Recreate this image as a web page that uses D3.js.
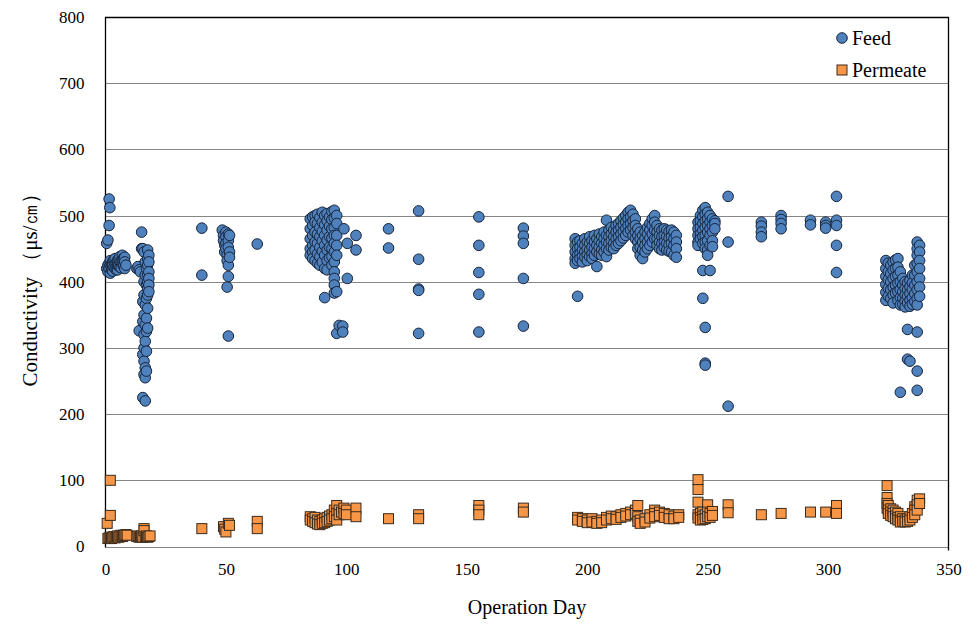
<!DOCTYPE html>
<html>
<head>
<meta charset="utf-8">
<script src="https://cdn.jsdelivr.net/npm/d3@7/dist/d3.min.js"></script>
<style>
  html, body { margin: 0; padding: 0; background: #fff; }
  svg { display: block; }
  text { font-family: "Liberation Serif", "Times New Roman", serif; fill: #000; }
</style>
</head>
<body>
<svg id="chart" width="977" height="638"></svg>
<script>
// ---------- data ----------
const xTicks = [0, 50, 100, 150, 200, 250, 300, 350];
const yTicks = [0, 100, 200, 300, 400, 500, 600, 700, 800];
const seriesNames = ["Feed", "Permeate"];

// Feed conductivity: days and the readings taken on each day
const feedDays = [
  0.5, 1, 1.5, 1.8, 2, 2.5, 3, 3.5, 4, 4.5, 5, 5.5, 6, 6.5, 7, 7.5, 8, 8.5,
  13, 13.5, 14, 14.5, 15, 15.5, 16, 16.5, 17, 17.5, 18,
  40, 48.5, 49, 49.5, 50, 50.5, 51, 51.5, 63,
  85, 86, 87, 88, 89, 90, 91, 92, 93, 94, 95, 96, 97, 98.5, 99, 100.4, 104,
  117.5, 130, 155, 173.5,
  195, 196, 197, 198, 199, 200, 201, 202, 203, 204, 205, 206, 207, 208, 209, 210,
  211, 212, 213, 214, 215, 216, 217, 218, 219, 220, 221, 222, 223, 224, 225, 226,
  227, 228, 229, 230, 231, 232, 233, 234, 235, 236, 237,
  246, 247, 248, 249, 250, 251, 252, 253, 258.5,
  272.3, 280.5, 292.7, 299, 303.5,
  324, 325, 326, 327, 328, 329, 330, 331, 332, 333, 334, 335, 336, 337, 338
];
const feedValues = [
  [458, 420], [463, 415, 425], [485, 525, 420, 428], [512], [425, 413, 432], [418, 427], [430, 416, 424],
  [422, 433], [435, 420, 427], [428, 418], [432, 418, 425], [425, 435], [438, 422, 430], [430, 421],
  [428, 440, 434], [435, 424], [420, 437, 430], [425],
  [420], [423], [418, 326], [415], [475, 450], [450, 370, 340, 290, 225],
  [445, 400, 380, 350, 320, 300, 280, 260], [430, 410, 365, 335, 310, 270, 255, 220],
  [420, 395, 375, 345, 325, 295, 265], [448, 435, 425, 410, 400, 390, 380, 360, 330],
  [440, 430, 415, 405, 395, 385],
  [481, 410], [478], [470, 462], [455, 445], [475, 468, 458, 450], [440, 432, 392],
  [472, 462, 452, 425, 408, 318], [470, 445, 437], [457],
  [495, 480, 465, 450, 440], [498, 485, 470, 455, 445, 435], [500, 490, 475, 460, 448, 432],
  [502, 488, 472, 458, 442, 428], [497, 482, 468, 452, 438, 425], [505, 490, 476, 462, 446, 430],
  [500, 486, 470, 455, 440, 420, 376], [503, 492, 478, 463, 448, 432, 418], [498, 484, 468, 452, 436],
  [506, 494, 480, 466, 450, 438, 425], [508, 496, 482, 470, 458, 445, 430, 415, 405, 395, 383],
  [500, 488, 470, 455, 440, 385, 322], [334], [333, 324], [480], [458, 405], [470, 448],
  [480, 451], [507, 434, 389, 387, 322], [498, 455, 414, 381, 324], [481, 469, 458, 405, 333],
  [465, 455, 445, 435, 428], [460, 450, 440, 432, 378], [462, 452, 442, 435], [458, 448, 438, 430],
  [465, 455, 445, 437], [460, 450, 440, 432], [468, 458, 448, 438], [462, 452, 442, 435],
  [470, 460, 450, 440], [465, 455, 445, 423], [472, 462, 452, 442], [468, 458, 448, 440],
  [475, 465, 455, 445], [493, 470, 460, 450, 438], [478, 468, 458, 448], [482, 472, 462, 452],
  [478, 468, 458, 450], [485, 475, 465, 455], [488, 478, 468, 458], [492, 482, 472, 462],
  [496, 486, 476, 466], [500, 490, 480, 470], [505, 495, 485, 475], [508, 498, 488, 478],
  [502, 492, 482, 470], [495, 485, 475, 465], [480, 470, 460, 450], [475, 465, 452, 440],
  [470, 460, 448, 435], [475, 465, 455, 445], [482, 472, 460, 450], [488, 478, 466, 455],
  [495, 485, 472, 460], [500, 490, 478, 465], [485, 475, 465, 455], [480, 470, 460, 450],
  [478, 468, 458, 448], [480, 470, 460, 452], [478, 468, 458, 448], [476, 466, 456, 446],
  [478, 468, 458, 445], [475, 465, 455, 440], [470, 460, 450, 437],
  [490, 480, 470, 460, 455], [500, 492, 482, 472, 465], [508, 498, 488, 478, 468, 458, 417, 375],
  [512, 502, 492, 482, 470, 460, 450, 331, 277, 274], [505, 495, 485, 475, 462, 448, 440],
  [500, 490, 480, 470, 455, 417], [495, 485, 475, 462, 453], [492, 488, 480], [529, 460, 212],
  [490, 484, 475, 468], [500, 494, 488, 480], [493, 486], [490, 485, 481], [529, 493, 485, 455, 414],
  [432, 420, 408, 396, 384, 372], [428, 415, 403, 390, 378], [425, 412, 400, 388, 375],
  [430, 418, 405, 392, 380, 368], [433, 420, 408, 395, 383], [435, 422, 410, 398, 385, 372],
  [415, 400, 388, 376, 365, 233], [405, 395, 385, 375, 366], [400, 390, 380, 370, 362],
  [398, 388, 378, 368, 328, 283], [402, 392, 382, 372, 363, 280], [410, 398, 388, 376, 366],
  [425, 410, 395, 382, 370], [460, 450, 440, 428, 415, 400, 388, 375, 365, 324, 265, 236],
  [455, 445, 432, 420, 405, 392, 378]
];

// Permeate conductivity
const permDays = [
  0.7, 1, 1.5, 2, 2.5, 3, 3.5, 4, 4.5, 5, 5.5, 6, 6.5, 7, 7.5, 8, 8.5, 9,
  13, 13.5, 14, 14.5, 15, 15.5, 16, 16.5, 17, 17.5, 18, 18.5,
  40, 49, 49.5, 50, 51, 51.5, 63,
  85, 86, 87, 88, 89, 90, 91, 92, 93, 94, 95, 96, 97, 98, 99, 100, 104,
  117.5, 130, 155, 173.5,
  196, 198, 200, 202, 204, 206, 208, 210, 212, 214, 216, 218, 220, 221, 222, 224, 226,
  228, 230, 232, 234, 236, 238,
  246, 247, 248, 249, 250, 251, 252, 258.5, 272.3, 280.5, 292.7, 299, 303.5,
  324.5, 325, 326, 327, 328, 329, 330, 331, 332, 333, 334, 335, 336, 337, 338
];
const permValues = [
  [35], [12], [13], [100, 47, 14], [12], [14], [15], [13], [15], [16], [14], [16], [17], [15], [17], [17], [18], [17],
  [15], [16], [14], [15], [16], [14], [27, 24], [15], [16], [14], [15], [16],
  [27], [30], [26], [22], [35], [32], [38, 27],
  [45, 40], [42, 38], [44, 36], [40, 34], [38, 33], [40, 35], [42, 36], [44, 38], [46, 40], [48, 42],
  [55, 45], [62, 50, 40], [55, 48], [52], [58, 50], [55, 48], [58, 45],
  [42], [48, 42], [62, 55, 48], [58, 52],
  [44, 40], [42, 38], [40, 36], [42, 37], [38, 35], [40, 36], [44, 40], [46, 42], [45, 41], [48, 44],
  [50, 46], [52, 48], [55, 50], [62, 45, 38], [40, 35], [42, 37], [48, 43], [55, 50, 45], [52, 47],
  [50, 44], [48, 42], [46, 42], [48, 44],
  [101, 86, 67, 48, 43], [50, 44, 40], [52, 46, 41], [48, 42], [63, 52, 45], [50, 44], [53, 47],
  [63, 51], [48], [50], [52], [52], [62, 50],
  [92, 74, 65, 58], [62, 55, 50], [57, 52, 47], [55, 50, 45], [52, 46, 42], [50, 44, 40], [45, 40, 37],
  [42, 38], [40, 37], [42, 38], [45, 40], [50, 44], [60, 55, 48], [70, 63, 55], [72, 65]
];

// ---------- layout ----------
const SERIF = "'Liberation Serif', 'Times New Roman', serif";
const svg = d3.select("#chart");
const plot = { left: 105.5, right: 948.5, top: 17, bottom: 546.5 };
const x = d3.scaleLinear().domain([0, 350]).range([plot.left, plot.right]);
const y = d3.scaleLinear().domain([0, 800]).range([plot.bottom, plot.top]);

function flatten(days, vals) {
  const out = [];
  days.forEach((d, i) => vals[i].forEach(v => out.push({ day: d, value: v })));
  return out;
}
const feed = flatten(feedDays, feedValues);
const perm = flatten(permDays, permValues);

// gridlines
svg.append("g")
  .selectAll("line")
  .data(yTicks.filter(t => t < 800))
  .join("line")
  .attr("x1", plot.left).attr("x2", plot.right)
  .attr("y1", d => Math.round(y(d)) + 0.5).attr("y2", d => Math.round(y(d)) + 0.5)
  .attr("stroke", "#868686").attr("stroke-width", 1);

// plot border (top, left, right)
svg.append("path")
  .attr("d", `M${plot.left},${plot.bottom + 1}V${plot.top + 0.5}H${plot.right}V${plot.bottom + 4}`)
  .attr("fill", "none").attr("stroke", "#000").attr("stroke-width", 1.3);

// axes
const yAxis = d3.axisLeft(y).tickValues(yTicks).tickSize(0).tickPadding(21).tickFormat(d3.format("d"));
const gy = svg.append("g").attr("transform", `translate(${plot.left},0)`).call(yAxis)
  .attr("font-family", SERIF).attr("font-size", 17);
gy.select(".domain").remove();
gy.selectAll("text").attr("fill", "#000");

const xAxis = d3.axisBottom(x).tickValues(xTicks).tickSize(0).tickPadding(16).tickFormat(d3.format("d"));
const gx = svg.append("g").attr("transform", `translate(0,${plot.bottom})`).call(xAxis)
  .attr("font-family", SERIF).attr("font-size", 17);
gx.select(".domain").remove();
gx.selectAll("text").attr("fill", "#000");

// feed points
svg.append("g")
  .selectAll("circle")
  .data(feed)
  .join("circle")
  .attr("cx", d => x(d.day))
  .attr("cy", d => y(d.value))
  .attr("r", 5.3)
  .attr("fill", "#4F81BD")
  .attr("stroke", "#16243a")
  .attr("stroke-width", 1);

// permeate points
const sq = 10;
svg.append("g")
  .selectAll("rect")
  .data(perm)
  .join("rect")
  .attr("x", d => x(d.day) - sq / 2)
  .attr("y", d => y(d.value) - sq / 2)
  .attr("width", sq).attr("height", sq)
  .attr("fill", "#F79646")
  .attr("stroke", "#3a2a1c")
  .attr("stroke-width", 1);

// axis titles
svg.append("text")
  .attr("x", (plot.left + plot.right) / 2).attr("y", 614)
  .attr("text-anchor", "middle")
  .attr("font-family", SERIF)
  .attr("font-size", 20)
  .text("Operation Day");

svg.append("text")
  .attr("transform", "translate(37,285) rotate(-90)")
  .attr("text-anchor", "middle")
  .attr("font-family", SERIF)
  .attr("font-size", 21)
  .text("Conductivity （μs/㎝）");

// legend
const legend = svg.append("g").attr("font-family", SERIF).attr("font-size", 20);
legend.append("circle").attr("cx", 842).attr("cy", 38).attr("r", 5.3)
  .attr("fill", "#4F81BD").attr("stroke", "#16243a");
legend.append("text").attr("x", 852).attr("y", 45).text(seriesNames[0]);
legend.append("rect").attr("x", 837).attr("y", 65).attr("width", sq).attr("height", sq)
  .attr("fill", "#F79646").attr("stroke", "#3a2a1c");
legend.append("text").attr("x", 852).attr("y", 77).text(seriesNames[1]);
</script>
</body>
</html>
